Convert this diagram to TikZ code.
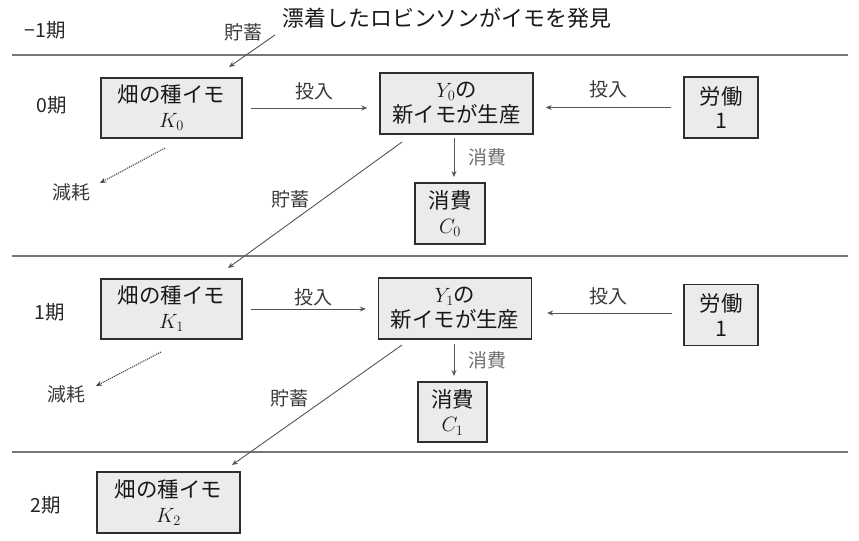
\documentclass[tikz,border=0pt]{standalone}
\usepackage[no-math]{fontspec}
\setmainfont{Noto Sans CJK JP}
\usetikzlibrary{arrows.meta}
\definecolor{boxfill}{HTML}{EBEBEB}
\definecolor{boxline}{HTML}{2E2E2E}
\definecolor{lin}{HTML}{555555}
\definecolor{lab}{HTML}{3A3A3A}
\definecolor{glab}{HTML}{707070}
\newcommand{\mi}[2]{$#1_{#2}$}
\tikzset{
  box/.style={draw=boxline,fill=boxfill,line width=1.4pt,inner sep=0pt,align=center,font=\fontsize{21.5}{25}\selectfont,text=black!90},
  per/.style={font=\fontsize{19.5}{22}\selectfont,text=black!85},
  lbl/.style={font=\fontsize{19}{22}\selectfont,text=lab},
  glbl/.style={font=\fontsize{19}{22}\selectfont,text=glab},
  conn/.style={draw=lin,line width=0.9pt,-{Stealth[length=6pt,width=5pt]}},
  dconn/.style={draw=black!75,line width=1.1pt,densely dotted,-{Stealth[length=6pt,width=5pt]}},
  sep/.style={draw=lin!80,line width=1.3pt}
}
\begin{document}
\begin{tikzpicture}[x=1bp,y=-1bp]
\useasboundingbox (0,0) rectangle (859,541);
\fill[white] (0,0) rectangle (859,541);
% period labels
\node[per] (pm1) at (45,30) {−1期};
\node[per] (p0) at (52,105) {0期};
\node[per] (p1) at (50,312) {1期};
\node[per] (p2) at (46,505) {2期};
% separators
\coordinate (s0a) at (12,55); \coordinate (s0b) at (848,55);
\coordinate (s1a) at (12,256); \coordinate (s1b) at (848,256);
\coordinate (s2a) at (12,452); \coordinate (s2b) at (848,452);
\draw[sep] (s0a) -- (s0b);
\draw[sep] (s1a) -- (s1b);
\draw[sep] (s2a) -- (s2b);
% title
\node[font=\fontsize{22}{26}\selectfont,text=black!90,anchor=west] (title) at (279,18) {漂着したロビンソンがイモを発見};
\node[lbl] (sv0) at (243,32) {貯蓄};
\coordinate (t0) at (275,35);
\coordinate (t1) at (229,67);
\draw[conn] (t0) -- (t1);
% period 0
\node[box,minimum width=141bp,minimum height=60bp] (K0) at (171.5,108) {畑の種イモ\\\mi{K}{0}};
\node[box,minimum width=153bp,minimum height=61bp] (Y0) at (456.5,103.5) {\mi{Y}{0}の\\新イモが生産};
\node[box,minimum width=74bp,minimum height=61bp] (L0) at (721,107.5) {労働\\1};
\node[box,minimum width=70bp,minimum height=61bp] (C0) at (450,213.5) {消費\\\mi{C}{0}};
\draw[conn,shorten <=8bp,shorten >=12bp] (K0.east) -- (K0.east -| Y0.west);
\node[lbl] (in0) at (314,91) {投入};
\draw[conn,shorten <=12bp,shorten >=12bp] (L0.west) -- (L0.west -| Y0.east);
\node[lbl] (inl0) at (608,89) {投入};
\coordinate (c0a) at (454,138); \coordinate (c0b) at (454,177);
\draw[conn] (c0a) -- (c0b);
\node[glbl] (cl0) at (487,157) {消費};
\coordinate (d0a) at (165,148); \coordinate (d0b) at (100,183);
\draw[dconn] (d0a) -- (d0b);
\node[lbl] (dep0) at (71,192) {減耗};
\coordinate (sa0) at (402,142); \coordinate (sb0) at (228,268);
\draw[conn] (sa0) -- (sb0);
\node[lbl] (svl0) at (290,199) {貯蓄};
% period 1
\node[box,minimum width=141bp,minimum height=60bp] (K1) at (171.5,309) {畑の種イモ\\\mi{K}{1}};
\node[box,minimum width=153bp,minimum height=61bp] (Y1) at (455,308.5) {\mi{Y}{1}の\\新イモが生産};
\node[box,minimum width=74bp,minimum height=61bp] (L1) at (721,315) {労働\\1};
\node[box,minimum width=69bp,minimum height=60bp] (C1) at (452.5,412) {消費\\\mi{C}{1}};
\draw[conn,shorten <=8bp,shorten >=12bp] (K1.east) -- (K1.east -| Y1.west);
\node[lbl] (in1) at (313,297) {投入};
\draw[conn,shorten <=11bp,shorten >=15bp] (L1.west |- 0,313) -- (Y1.east |- 0,313);
\node[lbl] (inl1) at (608,296) {投入};
\coordinate (c1a) at (454,344); \coordinate (c1b) at (454,376);
\draw[conn] (c1a) -- (c1b);
\node[glbl] (cl1) at (487,360) {消費};
\coordinate (d1a) at (161,352); \coordinate (d1b) at (96,386);
\draw[dconn] (d1a) -- (d1b);
\node[lbl] (dep1) at (66,394) {減耗};
\coordinate (sa1) at (402,345); \coordinate (sb1) at (232,465);
\draw[conn] (sa1) -- (sb1);
\node[lbl] (svl1) at (289,398) {貯蓄};
% period 2
\node[box,minimum width=143bp,minimum height=61bp] (K2) at (168.5,502.5) {畑の種イモ\\\mi{K}{2}};
\end{tikzpicture}
\end{document}
